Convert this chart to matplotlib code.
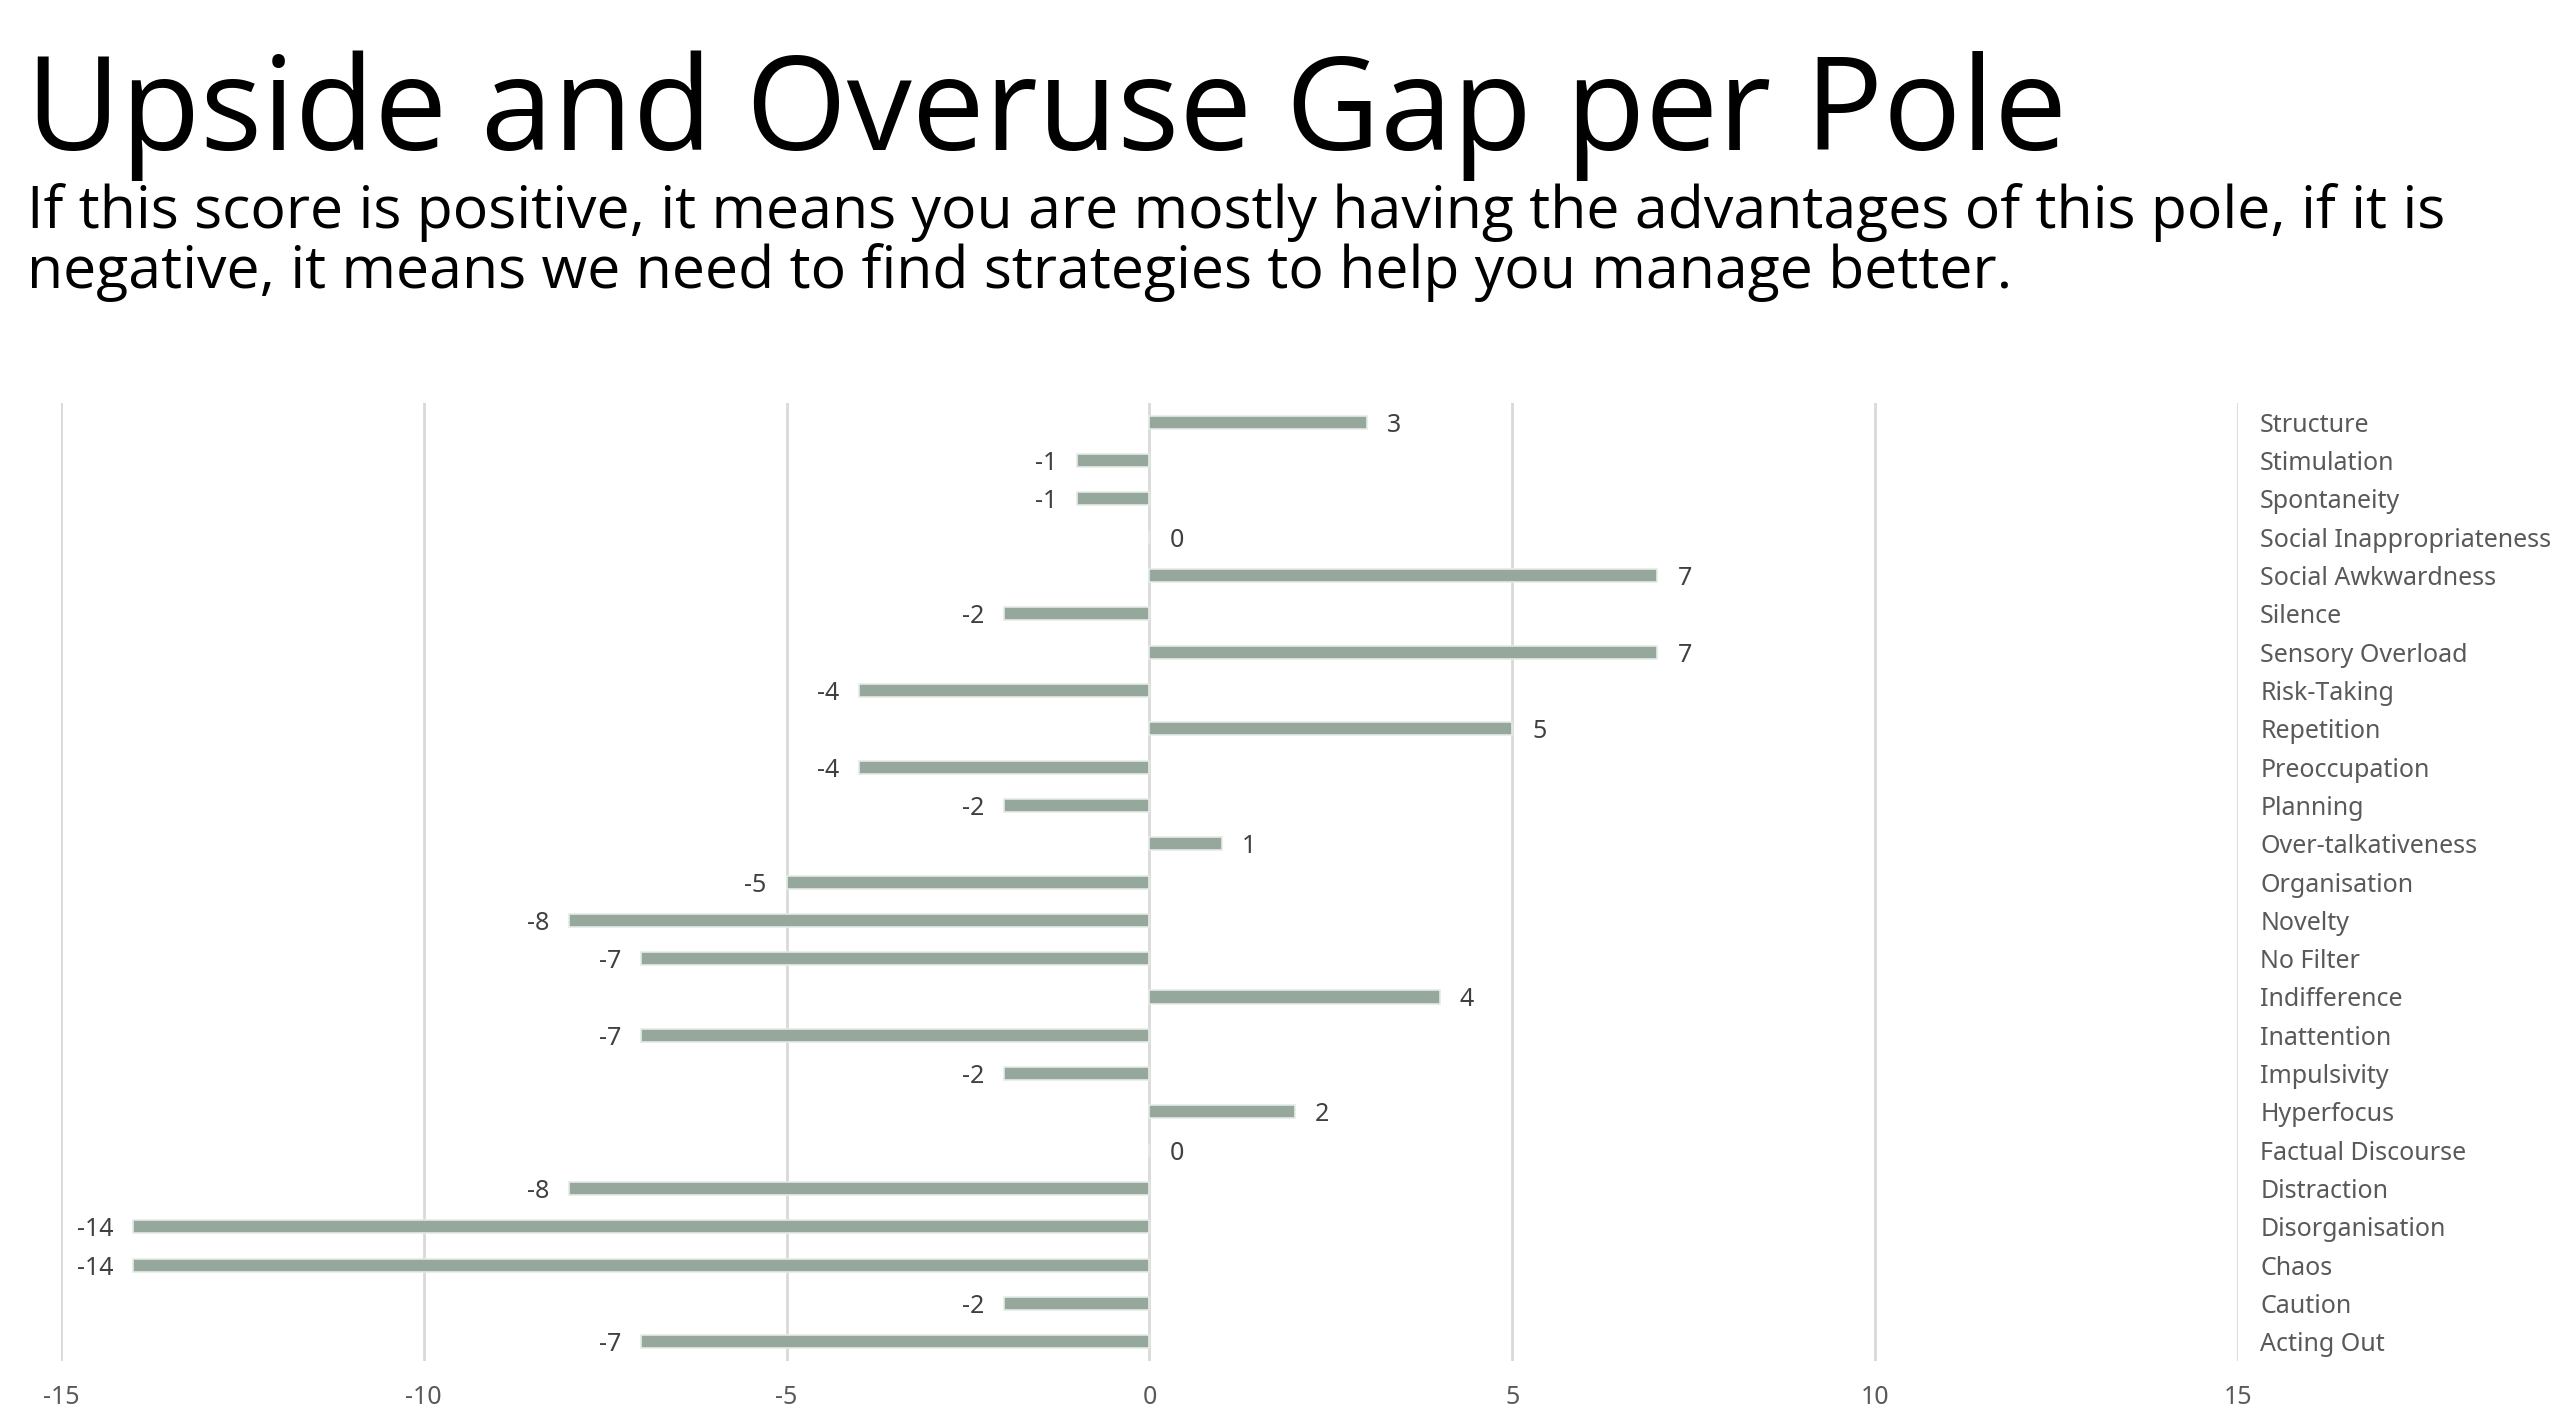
import matplotlib
matplotlib.use("Agg")
import matplotlib.pyplot as plt

# datos (de arriba hacia abajo)
poles = ['Structure', 'Stimulation', 'Spontaneity', 'Social Inappropriateness',
         'Social Awkwardness', 'Silence', 'Sensory Overload', 'Risk-Taking',
         'Repetition', 'Preoccupation', 'Planning', 'Over-talkativeness',
         'Organisation', 'Novelty', 'No Filter', 'Indifference', 'Inattention',
         'Impulsivity', 'Hyperfocus', 'Factual Discourse', 'Distraction',
         'Disorganisation', 'Chaos', 'Caution', 'Acting Out']
gap = [3, -1, -1, 0, 7, -2, 7, -4, 5, -4, -2, 1, -5, -8, -7, 4, -7, -2, 2, 0,
       -8, -14, -14, -2, -7]
xticks = [-15, -10, -5, 0, 5, 10, 15]

bar_color = '#95a89b'
grid_color = '#d9d9d9'

fig = plt.figure(figsize=(25.6, 14.19), dpi=100)
ax = fig.add_axes([0.0238, 0.0409, 0.8504, 0.675])

y = list(range(len(poles)))
ax.barh(y, gap, height=0.34, color=bar_color, edgecolor='#e4ebe6', linewidth=1.2, zorder=3)

for yi, v in zip(y, gap):
    if v < 0:
        ax.annotate(str(v), (v, yi), xytext=(-20, 0), textcoords='offset pixels',
                    ha='right', va='center_baseline', fontsize=18, color='#404040', family='Noto Sans')
    else:
        ax.annotate(str(v), (v, yi), xytext=(20, 0), textcoords='offset pixels',
                    ha='left', va='center_baseline', fontsize=18, color='#404040', family='Noto Sans')

ax.set_xlim(-15, 15)
ax.set_ylim(len(poles) - 0.5, -0.5)
ax.set_xticks(xticks)
ax.set_xticklabels([str(t) for t in xticks], fontsize=18, color='#595959', family='Noto Sans')
ax.set_yticks(y)
ax.set_yticklabels(poles, fontsize=18, color='#595959', family='Noto Sans')
ax.yaxis.tick_right()
ax.tick_params(axis='both', length=0)
ax.tick_params(axis='x', pad=17)
ax.tick_params(axis='y', pad=16)

ax.grid(axis='x', color=grid_color, linewidth=2, zorder=0)
for s in ax.spines.values():
    s.set_visible(False)

fig.text(0.010, 0.894, 'Upside and Overuse Gap per Pole', fontsize=93.5,
         family='Open Sans', color='black', va='baseline')
fig.text(0.0105, 0.839, 'If this score is positive, it means you are mostly having the advantages of this pole, if it is',
         fontsize=42.5, family='Open Sans', color='black', va='baseline')
fig.text(0.0105, 0.797, 'negative, it means we need to find strategies to help you manage better.',
         fontsize=42.5, family='Open Sans', color='black', va='baseline')

fig.savefig('out.png', dpi=100)
